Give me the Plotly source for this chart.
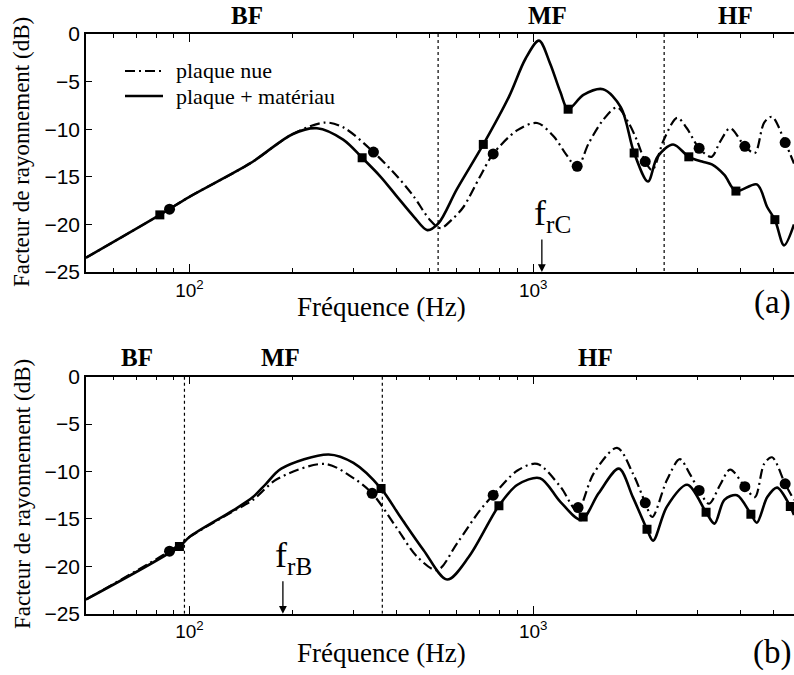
import math
import plotly.graph_objects as go

# ---- data: panel (a) ----
freq_nue_a = [50, 82, 100, 150, 200, 248, 280, 343, 403, 450, 500, 537, 580, 626, 700, 765,
              900, 1027, 1150, 1250, 1343, 1450, 1600, 1754, 1900, 2000, 2119, 2220, 2400,
              2624, 2800, 3040, 3300, 3500, 3743, 4130, 4416, 4700, 4955, 5410, 5740]
db_nue_a = [-23.5, -19.0, -17.1, -13.6, -10.5, -9.3, -9.8, -12.4, -15.0, -17.1, -19.5, -20.4,
            -19.5, -18.2, -15.0, -12.6, -10.1, -9.35, -10.8, -12.7, -14.0, -11.5, -9.0, -7.7,
            -9.4, -11.1, -13.4, -14.3, -11.1, -8.8, -9.9, -12.0, -12.9, -11.3, -9.9, -11.8,
            -12.5, -9.3, -8.7, -11.4, -13.6]

freq_mat_a = [50, 82, 100, 150, 200, 235, 280, 318, 360, 400, 450, 492, 530, 600, 716, 850,
              950, 1040, 1120, 1200, 1264, 1400, 1597, 1800, 1967, 2158, 2300, 2553, 2837,
              3100, 3310, 3600, 3890, 4475, 4800, 5050, 5370, 5740]
db_mat_a = [-23.5, -19.0, -17.1, -13.6, -10.5, -9.9, -11.1, -13.0, -15.0, -17.0, -19.2, -20.6,
            -19.9, -16.3, -11.6, -6.6, -2.6, -0.7, -3.1, -6.1, -7.9, -6.4, -5.8, -7.7, -12.5,
            -15.5, -12.9, -11.6, -12.9, -13.4, -13.7, -14.8, -16.5, -15.8, -18.2, -19.5,
            -22.2, -20.0]

sq_freq_a = [82, 318, 716, 1264, 1967, 2837, 3890, 5050]
sq_db_a = [-19.0, -13.0, -11.6, -7.9, -12.5, -12.9, -16.5, -19.5]
ci_freq_a = [87.5, 343, 765, 1343, 2119, 3040, 4130, 5410]
ci_db_a = [-18.4, -12.4, -12.6, -13.9, -13.4, -12.0, -11.8, -11.4]

# ---- data: panel (b) ----
freq_nue_b = [50, 87.5, 100, 134, 153, 180, 248, 300, 340, 400, 460, 526, 600, 700, 765, 900,
              1027, 1200, 1343, 1500, 1754, 1950, 2119, 2220, 2450, 2672, 2850, 3040, 3250,
              3500, 3743, 4130, 4416, 4700, 4955, 5410, 5740]
db_nue_b = [-23.5, -18.4, -16.9, -14.2, -13.0, -10.8, -9.2, -10.7, -12.3, -15.9, -19.0, -20.4,
            -17.6, -14.1, -12.5, -9.9, -9.2, -11.6, -14.1, -10.2, -7.5, -10.2, -13.3, -14.8,
            -10.9, -8.7, -10.2, -12.0, -13.4, -11.4, -9.8, -11.6, -12.7, -9.2, -8.5, -11.3,
            -13.0]

freq_mat_b = [50, 93.5, 100, 134, 153, 167, 185, 254, 300, 361, 411, 480, 562, 650, 795, 900,
              1047, 1200, 1380, 1550, 1776, 1950, 2144, 2234, 2450, 2806, 3185, 3370, 3600,
              3917, 4300, 4475, 4800, 5125, 5600, 5740]
db_mat_b = [-23.5, -17.9, -16.9, -14.1, -12.7, -11.3, -9.7, -8.2, -9.1, -11.8, -14.8, -18.3,
            -21.4, -19.0, -13.6, -11.4, -10.7, -13.2, -15.1, -12.3, -9.7, -12.7, -16.1, -17.3,
            -13.7, -11.4, -14.3, -15.5, -13.0, -12.5, -14.5, -15.4, -12.7, -11.7, -13.7, -14.6]

sq_freq_b = [93.5, 361, 795, 1398, 2144, 3185, 4300, 5600]
sq_db_b = [-17.9, -11.8, -13.6, -14.8, -16.1, -14.3, -14.5, -13.7]
ci_freq_b = [87.5, 340, 765, 1351, 2119, 3040, 4130, 5410]
ci_db_b = [-18.4, -12.3, -12.5, -13.8, -13.3, -12.0, -11.6, -11.3]

# band limits (Hz) and critical frequencies
bands_a = [529, 2405]
bands_b = [96.7, 364]
f_rC = 1060
f_rB = 187

y_ticks = [0, -5, -10, -15, -20, -25]
x_major = [100, 1000]
x_major_text = ['10<sup>2</sup>', '10<sup>3</sup>']
x_minor = [60, 70, 80, 90, 200, 300, 400, 500, 600, 700, 800, 900, 2000, 3000, 4000, 5000]

W, H = 794, 675
SERIF = 'Liberation Serif'
SANS = 'Liberation Sans'
DASH = '10px,4px,2px,4px'

fig = go.Figure()


def add_panel(xa, ya, fn, dn, fm, dm, sf, sd, cf, cd, bands):
    fig.add_trace(go.Scatter(x=fn, y=dn, mode='lines', name='plaque nue',
                             line=dict(color='black', width=2.2, dash=DASH, shape='spline', smoothing=0.9),
                             xaxis=xa, yaxis=ya, showlegend=False))
    fig.add_trace(go.Scatter(x=fm, y=dm, mode='lines', name='plaque + matériau',
                             line=dict(color='black', width=2.6, shape='spline', smoothing=0.9),
                             xaxis=xa, yaxis=ya, showlegend=False))
    fig.add_trace(go.Scatter(x=sf, y=sd, mode='markers', marker=dict(symbol='square', size=9, color='black'),
                             xaxis=xa, yaxis=ya, showlegend=False))
    fig.add_trace(go.Scatter(x=cf, y=cd, mode='markers', marker=dict(symbol='circle', size=11, color='black'),
                             xaxis=xa, yaxis=ya, showlegend=False))
    for b in bands:
        fig.add_trace(go.Scatter(x=[b, b], y=[0, -25], mode='lines',
                                 line=dict(color='black', width=1.2, dash='dot'),
                                 xaxis=xa, yaxis=ya, showlegend=False))


add_panel('x', 'y', freq_nue_a, db_nue_a, freq_mat_a, db_mat_a,
          sq_freq_a, sq_db_a, ci_freq_a, ci_db_a, bands_a)
add_panel('x2', 'y2', freq_nue_b, db_nue_b, freq_mat_b, db_mat_b,
          sq_freq_b, sq_db_b, ci_freq_b, ci_db_b, bands_b)

xcommon = dict(type='log', range=[math.log10(50), math.log10(5740)], domain=[86 / W, 1],
               tickvals=x_major, ticktext=x_major_text, ticks='inside', ticklen=8,
               tickcolor='black', showline=True, linecolor='black', linewidth=1.5,
               mirror='ticks', showgrid=False, zeroline=False, automargin=False,
               tickfont=dict(family=SANS, size=19, color='black'),
               minor=dict(tickvals=x_minor, ticks='inside', ticklen=4, tickcolor='black', showgrid=False))
ycommon = dict(range=[-25, 0], tickvals=y_ticks, ticks='inside', ticklen=6, tickcolor='black',
               showline=True, linecolor='black', linewidth=1.5, showgrid=False, zeroline=False,
               automargin=False, tickfont=dict(family=SANS, size=21, color='black'))

fig.update_layout(
    width=W, height=H,
    margin=dict(l=0, r=0, t=0, b=0),
    paper_bgcolor='white', plot_bgcolor='white',
    showlegend=False,
    xaxis=dict(**xcommon, anchor='y'),
    yaxis=dict(**ycommon, anchor='x', domain=[1 - 272 / H, 1 - 34 / H]),
    xaxis2=dict(**xcommon, anchor='y2'),
    yaxis2=dict(**ycommon, anchor='x2', domain=[1 - 613.7 / H, 1 - 376.7 / H]),
)


def ptext(x, y, text, size, angle=0, xanchor='center'):
    fig.add_annotation(x=x / W, y=1 - y / H, xref='paper', yref='paper', text=text,
                       showarrow=False, textangle=angle, xanchor=xanchor, yanchor='middle',
                       font=dict(family=SERIF, size=size, color='black'))


# legend (drawn by hand to match spacing)
for ly, dash, wdt, lab in [(71, DASH, 2.2, 'plaque nue'), (96, 'solid', 2.6, 'plaque + matériau')]:
    fig.add_shape(type='line', xref='paper', yref='paper', x0=125 / W, x1=163 / W,
                  y0=1 - ly / H, y1=1 - ly / H, line=dict(color='black', width=wdt, dash=dash))
    ptext(174, ly, lab, 22, xanchor='left')

for lab, px in [('<b>BF</b>', 247), ('<b>MF</b>', 547), ('<b>HF</b>', 735)]:
    ptext(px, 16, lab, 25)
for lab, px in [('<b>BF</b>', 137), ('<b>MF</b>', 280), ('<b>HF</b>', 595)]:
    ptext(px, 357, lab, 25)

ptext(381, 307, 'Fréquence (Hz)', 27)
ptext(381, 653, 'Fréquence (Hz)', 27)
ptext(22, 152, 'Facteur de rayonnement (dB)', 23, angle=-90)
ptext(22, 494, 'Facteur de rayonnement (dB)', 23, angle=-90)
ptext(793, 302, '(a)', 33, xanchor='right')
ptext(793, 652, '(b)', 33, xanchor='right')

for f, lab, xa, ya in [(f_rC, 'f<sub>rC</sub>', 'x', 'y'), (f_rB, 'f<sub>rB</sub>', 'x2', 'y2')]:
    fig.add_annotation(x=math.log10(f), y=-25, xref=xa, yref=ya, text='', showarrow=True,
                       ax=0, ay=-34, arrowhead=2, arrowsize=1.2, arrowwidth=1.3, arrowcolor='black')
    fig.add_annotation(x=math.log10(f), y=-25, xref=xa, yref=ya, text=lab, showarrow=False,
                       xanchor='left', yanchor='bottom', xshift=-10, yshift=32,
                       font=dict(family=SERIF, size=36, color='black'))

# remove the default page margin so the figure sits at the top-left corner
fig.write_html("out.html", config={'displayModeBar': False},
               post_script="document.body.style.margin='0';document.body.style.overflow='hidden';")
